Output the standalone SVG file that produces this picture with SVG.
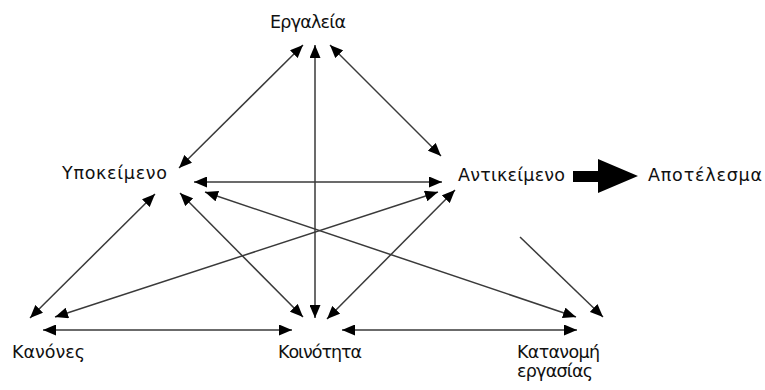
<svg xmlns="http://www.w3.org/2000/svg" width="765" height="390" viewBox="0 0 765 390">
  <style>
    .lbl { font-family: "DejaVu Sans", Verdana, sans-serif; font-size: 17.5px; fill: #111; }
    .link { stroke: #3a3a3a; stroke-width: 1.5; fill: none; }
    .both { marker-start: url(#head); marker-end: url(#head); }
    .one { marker-end: url(#head); }
  </style>
  <defs>
    <marker id="head" markerUnits="userSpaceOnUse" markerWidth="14" markerHeight="11" refX="13" refY="5.5" orient="auto-start-reverse">
      <path d="M0,0 L13,5.5 L0,11 z" fill="#000"/>
    </marker>
  </defs>
  <rect width="765" height="390" fill="#fff"/>

  <g id="connectors">
    <line class="link both" x1="303" y1="45" x2="179" y2="168"/>
    <line class="link both" x1="315" y1="45" x2="315" y2="318"/>
    <line class="link both" x1="330" y1="45" x2="441" y2="156"/>
    <line class="link both" x1="194" y1="182" x2="442" y2="182"/>
    <line class="link both" x1="155" y1="194" x2="30" y2="318"/>
    <line class="link both" x1="180" y1="193" x2="303" y2="317"/>
    <line class="link both" x1="205" y1="192" x2="576" y2="317"/>
    <line class="link both" x1="438" y1="192" x2="55" y2="317"/>
    <line class="link both" x1="455" y1="190" x2="327" y2="319"/>
    <line class="link one" x1="520" y1="237" x2="603" y2="317"/>
    <line class="link both" x1="43" y1="330" x2="292" y2="330"/>
    <line class="link both" x1="342" y1="330" x2="577" y2="330"/>
    <!-- block arrow towards the outcome -->
    <polygon points="573,171 598,171 598,159 638,176 598,193 598,182 573,182" fill="#000"/>
  </g>

  <g id="tools"><text class="lbl" x="270" y="28" textLength="76">Εργαλεία</text></g>
  <g id="subject"><text class="lbl" x="62" y="179" textLength="105">Υποκείμενο</text></g>
  <g id="object"><text class="lbl" x="458" y="181" textLength="107">Αντικείμενο</text></g>
  <g id="outcome"><text class="lbl" x="648" y="181" textLength="114">Αποτέλεσμα</text></g>
  <g id="rules"><text class="lbl" x="12" y="358" textLength="73">Κανόνες</text></g>
  <g id="community"><text class="lbl" x="278" y="358" textLength="84">Κοινότητα</text></g>
  <g id="division">
    <text class="lbl" x="517" y="358" textLength="83">Κατανομή</text>
    <text class="lbl" x="517" y="377" textLength="76">εργασίας</text>
  </g>
</svg>
